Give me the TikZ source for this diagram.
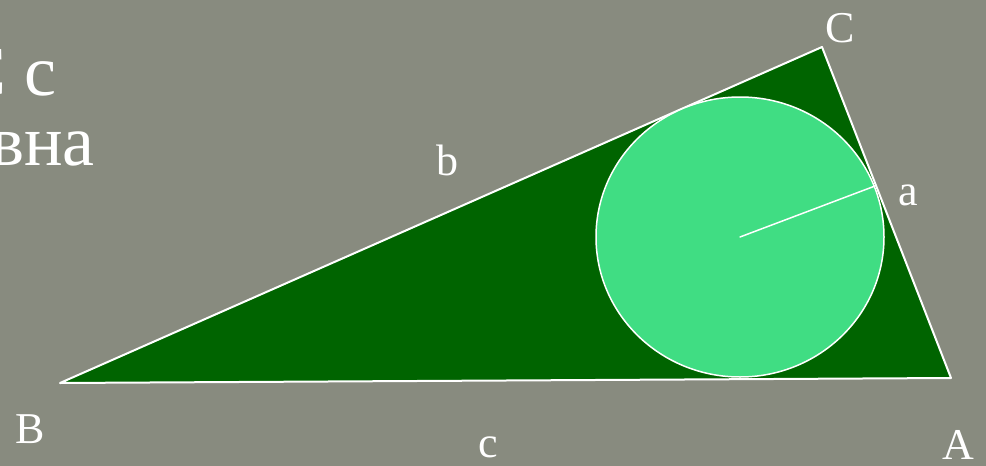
\documentclass[tikz,border=0pt]{standalone}
\usepackage{fontspec}
\setmainfont{Liberation Serif}
\definecolor{bg}{RGB}{136,139,127}
\definecolor{trigreen}{RGB}{0,100,0}
\definecolor{incircle}{RGB}{64,221,131}
\tikzset{
  lbl/.style={text=white, font=\fontsize{44}{48}\selectfont, anchor=base, inner sep=0pt},
  ttl/.style={text=white, font=\fontsize{72}{78}\selectfont, anchor=base east, inner sep=0pt}
}
\begin{document}
\begin{tikzpicture}[x=1pt, y=-1pt, line join=round, line cap=round]
  \fill[bg] (0,0) rectangle (986,466);
  \clip (0,0) rectangle (986,466);
  \useasboundingbox (0,0) rectangle (986,466);
  % vertices, incentre, tangent point
  \coordinate (B) at (60,383);
  \coordinate (A) at (951,378);
  \coordinate (C) at (822,47);
  \coordinate (O) at (740,237);
  \coordinate (T) at (875,186);
  \filldraw[fill=trigreen, draw=white, line width=2] (B)--(A)--(C)--cycle;
  \filldraw[fill=incircle, draw=white, line width=1.5] (O) ellipse (144 and 140);
  \draw[white, line width=1.5] (O)--(T);
  \path
  (57,95) node[ttl] (t1) {ABC с}
  (95,165) node[ttl] (t2) {равна}
  (840,42) node[lbl] (lC) {C}
  (908,205) node[lbl] (la) {a}
  (447,175) node[lbl] (lb) {b}
  (30,443) node[lbl] (lB) {B}
  (488,457) node[lbl] (lc) {c}
  (958,459) node[lbl] (lA) {A};
\end{tikzpicture}
\end{document}
